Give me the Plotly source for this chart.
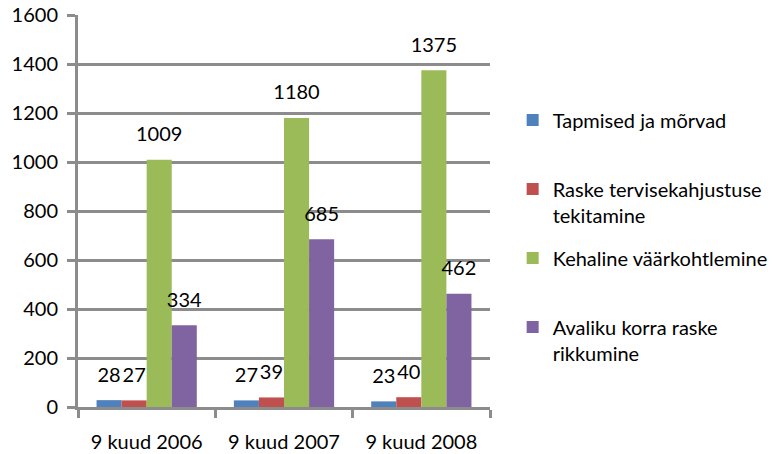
import plotly.graph_objects as go

categories = ["9 kuud 2006", "9 kuud 2007", "9 kuud 2008"]
series_names = [
    "Tapmised ja mõrvad",
    "Raske tervisekahjustuse<br>tekitamine",
    "Kehaline väärkohtlemine",
    "Avaliku korra raske<br>rikkumine",
]
tapmised = [28, 27, 23]
raske = [27, 39, 40]
kehaline = [1009, 1180, 1375]
avaliku = [334, 685, 462]
y_ticks = [0, 200, 400, 600, 800, 1000, 1200, 1400, 1600]

colors = ["#4F81BD", "#C0504D", "#9BBB59", "#8064A2"]
FONT = "Lato"
FS = 20
GRID = "#8C8C8C"

fig = go.Figure()
all_series = [tapmised, raske, kehaline, avaliku]
for i, (name, vals) in enumerate(zip(series_names, all_series)):
    padded = name if "<br>" in name else name + "<br>\u00a0"
    fig.add_trace(go.Bar(
        x=categories, y=vals, name=padded,
        marker=dict(color=colors[i], line=dict(width=0)),
        offsetgroup=str(i), legendgroup=str(i),
    ))
for i, vals in enumerate(all_series):
    fig.add_trace(go.Scatter(
        x=categories, y=vals, mode="markers+text",
        text=[str(v) for v in vals], textposition="top center",
        marker=dict(size=20, opacity=0),
        textfont=dict(family=FONT, size=FS, color="#000000"),
        offsetgroup=str(i), showlegend=False, hoverinfo="skip",
        cliponaxis=False,
    ))

fig.update_layout(
    width=773, height=454,
    margin=dict(l=78, r=283, t=15, b=47, autoexpand=False),
    paper_bgcolor="white", plot_bgcolor="white",
    barmode="group", bargap=0.27, bargroupgap=0,
    scattermode="group", scattergap=0.27,
    font=dict(family=FONT, size=FS, color="#000000"),
    legend=dict(
        x=1.055, xanchor="left", y=0.782, yanchor="top",
        valign="top", tracegroupgap=14,
        font=dict(family=FONT, size=FS),
        itemclick=False,
    ),
    showlegend=True,
)
fig.update_xaxes(
    type="category", showgrid=False, automargin=False,
    showline=True, linecolor=GRID, linewidth=3,
    ticks="outside", tickson="boundaries", ticklen=8, tickwidth=3, tickcolor=GRID,
    ticklabelstandoff=15,
    tickfont=dict(family=FONT, size=FS),
)
fig.update_yaxes(
    range=[0, 1600], tickvals=y_ticks, automargin=False,
    showgrid=True, gridcolor=GRID, gridwidth=3,
    showline=True, linecolor=GRID, linewidth=3,
    ticks="outside", ticklen=8, tickwidth=3, tickcolor=GRID,
    ticklabelstandoff=5, zeroline=False, ticklabeloverflow="allow",
    tickfont=dict(family=FONT, size=FS),
)

fig.write_html(
    "out.html",
    config={"displayModeBar": False},
    post_script="document.body.style.margin='0';document.body.style.padding='0';",
)
